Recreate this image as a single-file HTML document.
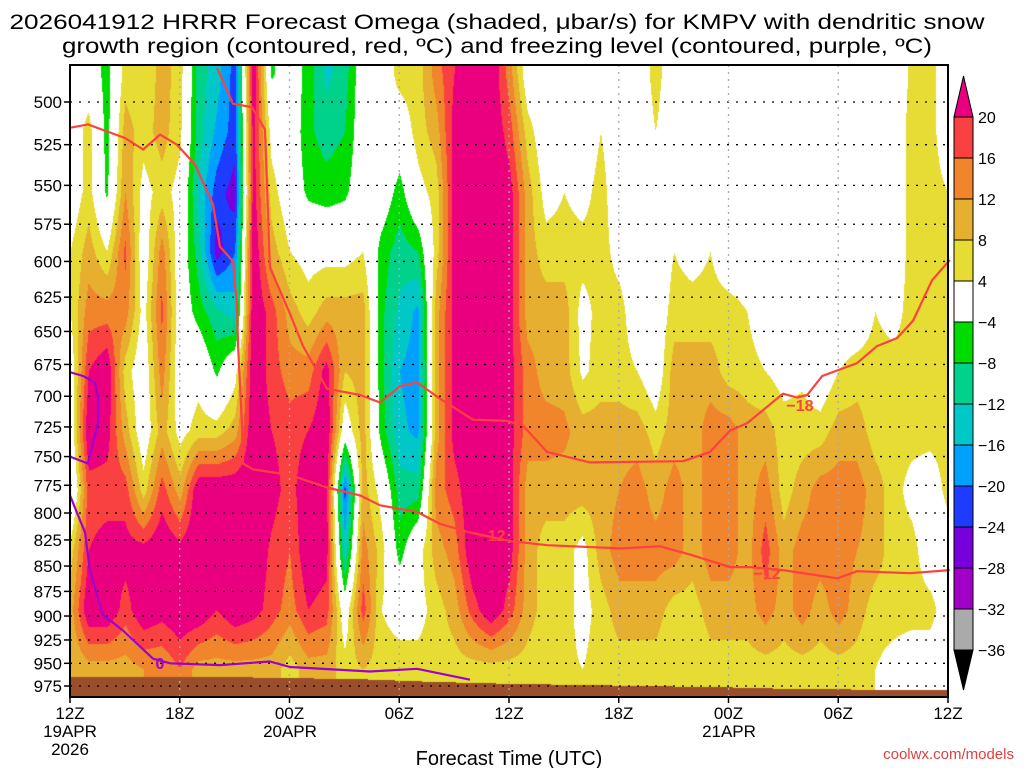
<!DOCTYPE html>
<html><head><meta charset="utf-8">
<style>
html,body{margin:0;padding:0;background:#fff;}
#wrap{position:relative;width:1024px;height:768px;overflow:hidden;font-family:"Liberation Sans",sans-serif;}
canvas{position:absolute;left:70px;top:65px;}
svg{position:absolute;left:0;top:0;}
</style></head>
<body>
<div id="wrap">
<canvas id="cv" width="878" height="632"></canvas>
<svg id="sv" width="1024" height="768"></svg>
</div>
<script>
// ---- data ----
const pressureRows = [483,517,554,593,635,680,728,779,835,893,956];
const omegaByHour = [
[0,0,0,4,4,0,0,-5,6,10,8],
[0,6,6,10,14,20,24,18,20,24,10],
[-6,-6,-5,4,14,24,22,18,22,24,10],
[6,10,12,17,14,6,10,18,22,18,10],
[4,6,2,0,2,0,0,6,22,24,12],
[10,10,6,14,17,14,10,18,24,22,12],
[6,5,2,0,0,0,2,10,22,24,16],
[-10,-10,-13,-10,-6,2,6,24,24,24,10],
[-14,-17,-22,-26,-11,-5,6,24,24,20,10],
[-22,-22,-26,-20,-14,2,10,24,24,24,10],
[24,22,22,24,24,24,24,24,24,22,10],
[-5,2,6,10,18,18,20,22,19,18,10],
[0,0,0,4,10,14,18,18,16,14,6],
[-6,-7,-5,2,6,14,20,24,24,20,10],
[-13,-10,-6,2,10,22,24,22,22,18,10],
[-10,-8,-5,2,10,8,0,-22,-14,0,6],
[0,0,0,4,10,10,10,10,14,18,8],
[0,2,0,-6,-7,-7,-6,2,6,4,6],
[6,0,-6,-10,-13,-16,-15,-10,-6,2,6],
[6,6,2,-8,-17,-18,-17,-10,2,2,6],
[14,10,6,6,10,10,10,14,10,6,6],
[20,22,22,22,22,22,22,18,14,10,6],
[24,24,24,24,24,24,24,24,24,18,6],
[24,24,24,24,24,24,24,24,24,24,6],
[14,18,22,22,22,22,22,22,22,18,6],
[0,6,10,10,10,14,14,10,10,10,6],
[0,0,2,6,10,10,14,10,6,6,5],
[0,0,4,6,10,10,13,10,6,6,5],
[0,0,2,6,2,3,10,10,2,2,4],
[0,4,6,6,6,6,10,10,10,6,6],
[0,0,0,2,6,6,10,12,14,10,6],
[0,0,0,0,0,4,10,14,14,10,6],
[6,4,0,0,0,0,6,10,14,10,6],
[0,0,0,4,6,10,10,14,14,6,4],
[0,0,0,2,6,10,10,10,10,6,4],
[0,0,0,4,6,10,14,14,14,10,6],
[0,0,0,0,6,6,14,14,14,10,6],
[0,0,0,0,4,6,10,10,10,10,6],
[0,0,0,0,0,4,10,14,18,14,6],
[0,0,0,0,0,2,6,6,10,10,6],
[0,0,0,0,0,3,6,10,14,14,6],
[0,0,0,0,0,0,6,14,14,10,6],
[0,0,0,0,0,4,10,14,14,14,6],
[0,0,0,0,0,6,10,14,12,10,6],
[0,0,0,0,4,6,6,10,10,6,4],
[0,0,0,0,2,6,6,6,6,6,2],
[5,6,6,6,6,6,6,2,6,6,0],
[6,6,6,6,6,6,6,0,0,6,0],
[0,0,4,6,6,6,6,6,0,0,0]
];
const groundHours = [0,10,16,20,24,30,36,40,48];
const groundPressure = [964,965,967,970,972,974,976,978,979];
const dgzLowerHours = [0,0.98,3.0,4.0,4.92,5.85,6.83,7.82,8.2,8.91,9.13,9.19,9.4,9.46,10.0,12.03,13.5,14.05,15.86,16.95,18.97,20.23,21.87,24.06,26.08,30.07,32.26,33.9,36.09,37.18,38.98,41.94,43.03,45.93,48.1];
const dgzLowerPress = [515,513,521,528,519,525,537,562,590,600,631,661,722,756,761,766,774,777,784,793,799,810,818,826,830,833,831,839,851,851,854,862,855,857,854];
const dgzUpperHours = [8.04,8.91,9.95,10.66,10.93,12.03,12.74,14.05,15.86,16.95,18.04,18.97,20.23,22.03,23.89,24.77,26.08,28.43,33.52,34.99,36.09,37.01,38.98,39.75,40.3,41.12,43.03,44.12,45.22,46.09,47.13,48.1];
const dgzUpperPress = [481,501,503,516,604,637,661,694,699,705,692,689,702,719,720,724,746,755,754,746,728,722,698,701,699,684,674,661,655,642,613,599];
const frzAHours = [0,0.71,1.37,1.53,1.53,0.98,0];
const frzAPress = [681,684,689,702,722,756,750];
const frzBHours = [0,0.82,1.09,1.8,2.9,4.54,5.47,8.2,10.93,12.03,16.4,18.97,21.87];
const frzBPress = [784,818,854,899,915,945,950,952,948,954,959,956,968];
const yTicks = [500,525,550,575,600,625,650,675,700,725,750,775,800,825,850,875,900,925,950,975];
const xTickHours = [0,6,12,18,24,30,36,42,48];
const xTickLabels = ["12Z","18Z","00Z","06Z","12Z","18Z","00Z","06Z","12Z"];
const cbLevels = ["20","16","12","8","4","-4","-8","-12","-16","-20","-24","-28","-32","-36"];
const cbColors = ["#fa4141","#f0852c","#e6af2f","#e6dc34","#ffffff","#00dc00","#00d28c","#00c8c8","#00a0ff","#1e3cff","#7800dc","#a000c8","#aaaaaa"];

// ---- axes (log-pressure) ----
const X0=70,X1=948,Y0=65,Y1=697;
const LOGK=874.5;
const xOf=h=>X0+h*(X1-X0)/48;
const yOf=p=>102+LOGK*Math.log(p/500);
const pOfY=y=>500*Math.exp((y-102)/LOGK);

function omegaAt(h,p){
  let c=Math.max(0,Math.min(48,h));
  let c0=Math.min(47,Math.floor(c)),fc=c-c0;
  let r0,fr;
  if(p<=pressureRows[0]){r0=0;fr=0;}
  else if(p>=pressureRows[10]){r0=9;fr=1;}
  else{r0=0;while(p>pressureRows[r0+1])r0++;fr=(p-pressureRows[r0])/(pressureRows[r0+1]-pressureRows[r0]);}
  const a=omegaByHour[c0][r0],b=omegaByHour[c0+1][r0],d=omegaByHour[c0][r0+1],e=omegaByHour[c0+1][r0+1];
  return (a*(1-fc)+b*fc)*(1-fr)+(d*(1-fc)+e*fc)*fr;
}
function groundAt(h){
  for(let i=0;i<groundHours.length-1;i++){
    if(h<=groundHours[i+1]){const f=(h-groundHours[i])/(groundHours[i+1]-groundHours[i]);return groundPressure[i]+(groundPressure[i+1]-groundPressure[i])*f;}
  }
  return groundPressure[groundPressure.length-1];
}
function hex(c){return [parseInt(c.slice(1,3),16),parseInt(c.slice(3,5),16),parseInt(c.slice(5,7),16)];}
const MAG=hex("#ea007f"),BROWN=hex("#9b4e2b");
const bands=cbColors.map(hex);
function colorOf(v){
  if(v>=20)return MAG;
  if(v>=16)return bands[0];
  if(v>=12)return bands[1];
  if(v>=8)return bands[2];
  if(v>=4)return bands[3];
  if(v>=-4)return bands[4];
  if(v>=-8)return bands[5];
  if(v>=-12)return bands[6];
  if(v>=-16)return bands[7];
  if(v>=-20)return bands[8];
  if(v>=-24)return bands[9];
  if(v>=-28)return bands[10];
  if(v>=-32)return bands[11];
  return bands[12];
}
const cv=document.getElementById('cv');
const ctx=cv.getContext('2d');
const W=cv.width,H=cv.height;
const img=ctx.createImageData(W,H);
for(let px=0;px<W;px++){
  const h=px*48/(X1-X0);
  const g=groundAt(h);
  for(let py=0;py<H;py++){
    const p=pOfY(py+Y0);
    const col=p>g?BROWN:colorOf(omegaAt(h,p));
    const k=(py*W+px)*4;
    img.data[k]=col[0];img.data[k+1]=col[1];img.data[k+2]=col[2];img.data[k+3]=255;
  }
}
ctx.putImageData(img,0,0);

// ---- overlay ----
const sv=document.getElementById('sv');
const NS="http://www.w3.org/2000/svg";
function el(tag,attrs,parent){const e=document.createElementNS(NS,tag);for(const k in attrs)e.setAttribute(k,attrs[k]);(parent||sv).appendChild(e);return e;}
function txt(s,attrs){const t=el('text',attrs);t.textContent=s;return t;}

yTicks.forEach(p=>{
  const l=el('line',{x1:X0,x2:X1,y1:yOf(p),y2:yOf(p),stroke:'#000','stroke-width':1.3,'stroke-dasharray':'2,7'});
  
  
  const tk=el('line',{x1:X0-6,x2:X0,y1:yOf(p),y2:yOf(p),stroke:'#000','stroke-width':1.5});
  
  
  const t=txt(String(p),{x:62,y:yOf(p)+6,'text-anchor':'end','font-size':17,fill:'#000'});
  
  
});
xTickHours.forEach((h,i)=>{
  const x=xOf(h);
  if(i>0&&i<xTickHours.length-1){
    const l=el('line',{x1:x,x2:x,y1:Y0,y2:Y1,stroke:'#aaa','stroke-width':1.3,'stroke-dasharray':'2,5'});
    
    
  }
  const tk=el('line',{x1:x,x2:x,y1:Y1,y2:Y1+6,stroke:'#000','stroke-width':1.5});
  
  
  const t=txt(xTickLabels[i],{x:x,y:719,'text-anchor':'middle','font-size':17,fill:'#000'});
  
  
});

function poly(hs,ps,color,name){
  const pts=hs.map((h,i)=>xOf(h).toFixed(1)+','+yOf(ps[i]).toFixed(1)).join(' ');
  const l=el('polyline',{points:pts,fill:'none',stroke:color,'stroke-width':2.2,'stroke-linejoin':'round'});
  
  
}
poly(dgzLowerHours,dgzLowerPress,'#ff4040','dgz-minus12-contour');
poly(dgzUpperHours,dgzUpperPress,'#ff4040','dgz-minus18-contour');
poly(frzAHours,frzAPress,'#a000d0','freezing-level-contour-a');
poly(frzBHours,frzBPress,'#a000d0','freezing-level-contour-b');
[["−12",492,541],["−12",767,579],["−18",800,411]].forEach(a=>{
  const t=txt(a[0],{x:a[1],y:a[2],'text-anchor':'middle','font-size':16,'font-weight':'bold',fill:'#ff4040'});
  
  
});
const z=txt("0",{x:160,y:669,'text-anchor':'middle','font-size':16,'font-weight':'bold',fill:'#a000d0'});



const fr=el('rect',{x:X0,y:Y0,width:X1-X0,height:Y1-Y0,fill:'none',stroke:'#000','stroke-width':2});



const CBX=954,CBW=19,CBT=117,STEP=41;
cbColors.forEach((c,i)=>{
  const r=el('rect',{x:CBX,y:CBT+i*STEP,width:CBW,height:STEP,fill:c,stroke:'#000','stroke-width':1});
  
  
});
const topA=el('polygon',{points:`${CBX},${CBT} ${CBX+CBW},${CBT} ${CBX+CBW/2},76`,fill:'#ea007f',stroke:'#000','stroke-width':1});


const botY=CBT+cbColors.length*STEP;
const botA=el('polygon',{points:`${CBX},${botY} ${CBX+CBW},${botY} ${CBX+CBW/2},690`,fill:'#000',stroke:'#000','stroke-width':1});


cbLevels.forEach((s,i)=>{
  const t=txt(s.replace('-','−'),{x:978,y:CBT+i*STEP+6,'font-size':16,fill:'#000'});
  
  
});
</script>
<svg width="1024" height="768" style="position:absolute;left:0;top:0;pointer-events:none">
<text x="497" y="29" text-anchor="middle" font-size="21" textLength="975" lengthAdjust="spacingAndGlyphs" font-family="Liberation Sans, sans-serif">2026041912 HRRR Forecast Omega (shaded, μbar/s) for KMPV with dendritic snow</text>
<text x="497" y="53" text-anchor="middle" font-size="21" textLength="870" lengthAdjust="spacingAndGlyphs" font-family="Liberation Sans, sans-serif">growth region (contoured, red, ºC) and freezing level (contoured, purple, ºC)</text>
<text x="70" y="737" text-anchor="middle" font-size="17" font-family="Liberation Sans, sans-serif">19APR</text>
<text x="70" y="755" text-anchor="middle" font-size="17" font-family="Liberation Sans, sans-serif">2026</text>
<text x="290" y="737" text-anchor="middle" font-size="17" font-family="Liberation Sans, sans-serif">20APR</text>
<text x="729" y="737" text-anchor="middle" font-size="17" font-family="Liberation Sans, sans-serif">21APR</text>
<text x="509" y="765" text-anchor="middle" font-size="20" font-family="Liberation Sans, sans-serif">Forecast Time (UTC)</text>
<text x="1014" y="759" text-anchor="end" font-size="15" fill="#e04040" font-family="Liberation Sans, sans-serif">coolwx.com/models</text>
</svg>
</body></html>
